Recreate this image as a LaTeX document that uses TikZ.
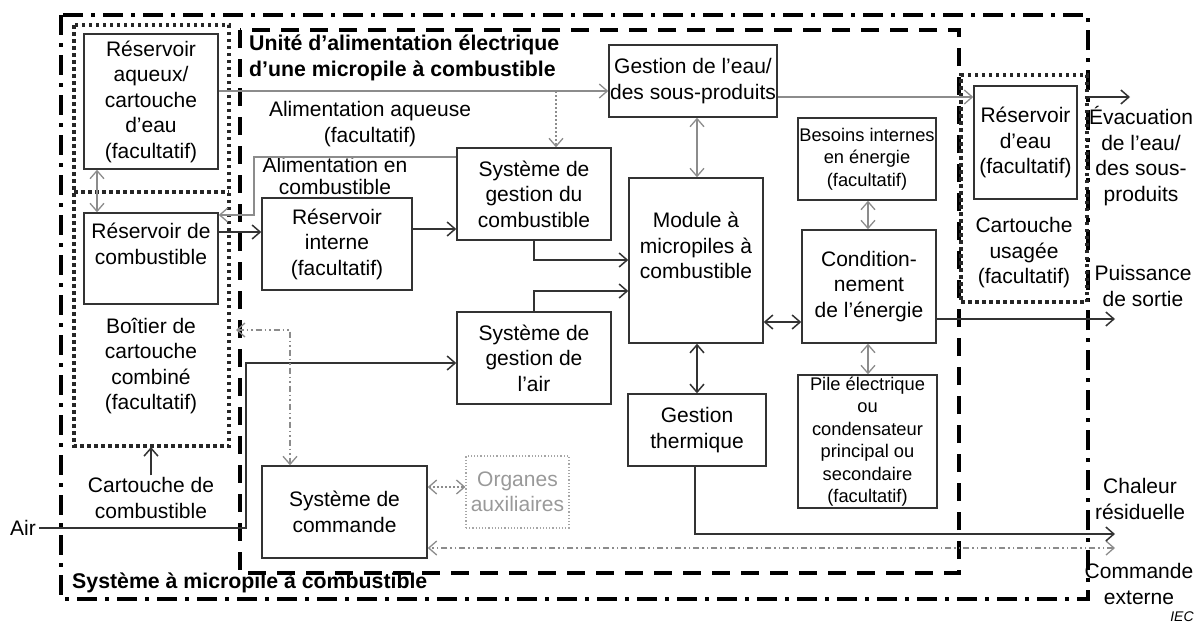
\documentclass[tikz,border=0pt]{standalone}
\usepackage{fontspec}
\setmainfont{Liberation Sans}
\usetikzlibrary{arrows.meta}
\definecolor{ink}{HTML}{333333}
\definecolor{gln}{HTML}{8C8C8C}
\begin{document}
\begin{tikzpicture}[x=1pt,y=-1pt,
  >={Straight Barb[length=8pt,width=14pt]},
  bigf/.style={font=\fontsize{21}{25.5}\selectfont},
  smallf/.style={font=\fontsize{18.3}{22.5}\selectfont},
  box/.style={draw=ink, line width=1.5pt, rectangle, align=center, inner sep=0pt, bigf},
  lab/.style={align=center, inner sep=0pt, bigf},
  conn/.style={draw=ink, line width=1.5pt},
  gconn/.style={draw=gln, line width=1.3pt},
  gdots/.style={draw=gln, line width=1.3pt, dash pattern=on 2pt off 2pt},
  ctrl/.style={draw=gln, line width=1.3pt, dash pattern=on 6pt off 3pt on 1.5pt off 3pt on 1.5pt off 3pt},
  outerline/.style={draw=black, line width=4pt, dash pattern=on 20pt off 8pt on 4pt off 8pt},
  dashline/.style={draw=black, line width=4pt, dash pattern=on 18pt off 11pt},
  dotline/.style={draw=black!85, line width=4pt, dash pattern=on 3.5pt off 3.5pt},
]
\useasboundingbox (0,0) rectangle (1197,625);

% containers
\draw[outerline] (61,15) rectangle (1088,599);
\draw[dashline] (240,30) rectangle (959,573);
\draw[dotline] (74,25) rectangle (229,446);
\draw[dotline] (74,192) -- (229,192);
\node[draw=black!85, line width=4pt, dash pattern=on 3.5pt off 3.5pt, rectangle, minimum width=126pt, minimum height=227pt, inner sep=0pt] (usee) at (1024,188.5) {};

% boxes
\node[box, minimum width=134pt, minimum height=135pt] (raq) at (151,101.5) {Réservoir\\aqueux/\\cartouche\\d’eau\\(facultatif)};
\node[box, minimum width=134pt, minimum height=91pt] (rcomb) at (151,258.5) {Réservoir de\\combustible\\[4pt]};
\node[box, minimum width=150pt, minimum height=92pt] (rint) at (337,244) {Réservoir\\interne\\(facultatif)};
\node[box, minimum width=168pt, minimum height=72pt] (geau) at (693,81) {Gestion de l’eau/\\des sous-produits};
\node[box, minimum width=154pt, minimum height=92pt] (sgc) at (534,194) {Système de\\gestion du\\combustible};
\node[box, minimum width=134pt, minimum height=165pt] (mod) at (696,260.5) {Module à\\micropiles à\\combustible\\[4pt]};
\node[box, minimum width=138pt, minimum height=82pt, smallf] (bes) at (867,159) {Besoins internes\\en énergie\\(facultatif)};
\node[box, minimum width=134pt, minimum height=113pt] (cond) at (869,286.5) {Condition-\\nement\\de l’énergie};
\node[box, minimum width=139pt, minimum height=133pt, smallf] (pile) at (867.5,441.5) {Pile électrique\\ou\\condensateur\\principal ou\\secondaire\\(facultatif)};
\node[box, minimum width=154pt, minimum height=92pt] (sga) at (534,358) {Système de\\gestion de\\l’air};
\node[box, minimum width=138pt, minimum height=72pt] (gt) at (697,430) {Gestion\\thermique};
\node[box, draw=gray!70, line width=1.2pt, dotted, text=gray!80, minimum width=103pt, minimum height=72pt] (org) at (517.5,492) {Organes\\auxiliaires};
\node[box, minimum width=165pt, minimum height=92pt] (sdc) at (344.5,512) {Système de\\commande};
\node[box, minimum width=103pt, minimum height=113pt] (reau) at (1025.5,142.5) {Réservoir\\d’eau\\(facultatif)};

% labels
\node[anchor=west, align=left, inner sep=0pt, font=\fontsize{21.3}{26}\selectfont\bfseries] (titre) at (249,58) {Unité d’alimentation électrique\\d’une micropile à combustible};
\node[lab] (alaq) at (370,124) {Alimentation aqueuse\\(facultatif)};
\node[lab, font=\fontsize{21}{21.5}\selectfont] (alco) at (335,176) {Alimentation en\\combustible};
\node[lab] (boit) at (151,366) {Boîtier de\\cartouche\\combiné\\(facultatif)};
\node[lab] (cartc) at (151,498) {Cartouche de\\combustible};
\node[lab, inner sep=3pt] (air) at (23,528) {Air};
\node[anchor=west, inner sep=0pt, font=\fontsize{21.3}{22}\selectfont\bfseries] (sys) at (72,583) {Système à micropile à combustible};
\node[lab] (cusa) at (1024,253) {Cartouche\\usagée\\(facultatif)};
\node[lab] (evac) at (1141,156) {Évacuation\\de l’eau/\\des sous-\\produits};
\node[lab] (puis) at (1143,286) {Puissance\\de sortie};
\node[lab] (chal) at (1140,499) {Chaleur\\résiduelle};
\node[lab] (cext) at (1139,584) {Commande\\externe};
\node[inner sep=0pt, font=\fontsize{14}{16}\selectfont\itshape] (iec) at (1182,617) {IEC};

% connectors
\coordinate (wb) at (556,91);
\draw[gconn,->] (raq.east |- 0,91) -- (geau.west |- 0,91);
\draw[gdots,->] (wb) -- (sgc.north -| wb);
\draw[gconn,->] (geau.east |- 0,97) -- (reau.west |- 0,97);
\coordinate (evacend) at (1130,97);
\draw[conn,->] (usee.east |- evacend) -- (evacend);
\draw[gconn,<->] (geau.south -| 697,0) -- (mod.north -| 697,0);
\draw[gconn,->] (sgc.west |- 0,157) -| (254,215) -- (rcomb.east |- 0,215);
\draw[gconn,<->] (raq.south -| 97,0) -- (rcomb.north -| 97,0);
\draw[conn,->] (rcomb.east |- 0,232) -- (rint.west |- 0,232);
\draw[conn,->] (rint.east |- 0,229) -- (sgc.west |- 0,229);
\draw[conn,->] (sgc.south) |- (mod.west |- 0,260);
\draw[conn,->] (sga.north) |- (mod.west |- 0,291);
\draw[conn,->] (air.east) -| (246,363) -- (sga.west |- 0,363);
\draw[conn,->] (cartc.north) ++(0,-2) -- (151,447);
\draw[ctrl,<->] (236,330) -| (sdc.north -| 290,0);
\draw[gdots,<->] (sdc.east |- 0,487) -- (org.west |- 0,487);
\coordinate (cmdend) at (1115,548);
\draw[ctrl,<->] (cmdend) -- (sdc.east |- cmdend);
\coordinate (heatend) at (1115,534);
\draw[conn,->] (gt.south -| 695,0) |- (heatend);
\draw[conn,<->] (mod.south -| 697,0) -- (gt.north -| 697,0);
\draw[conn,<->] (mod.east |- 0,322) -- (cond.west |- 0,322);
\draw[gconn,<->] (bes.south -| 868,0) -- (cond.north -| 868,0);
\draw[gconn,<->] (cond.south -| 868,0) -- (pile.north -| 868,0);
\coordinate (powend) at (1115,319);
\draw[conn,->] (cond.east |- powend) -- (powend);
\end{tikzpicture}
\end{document}
